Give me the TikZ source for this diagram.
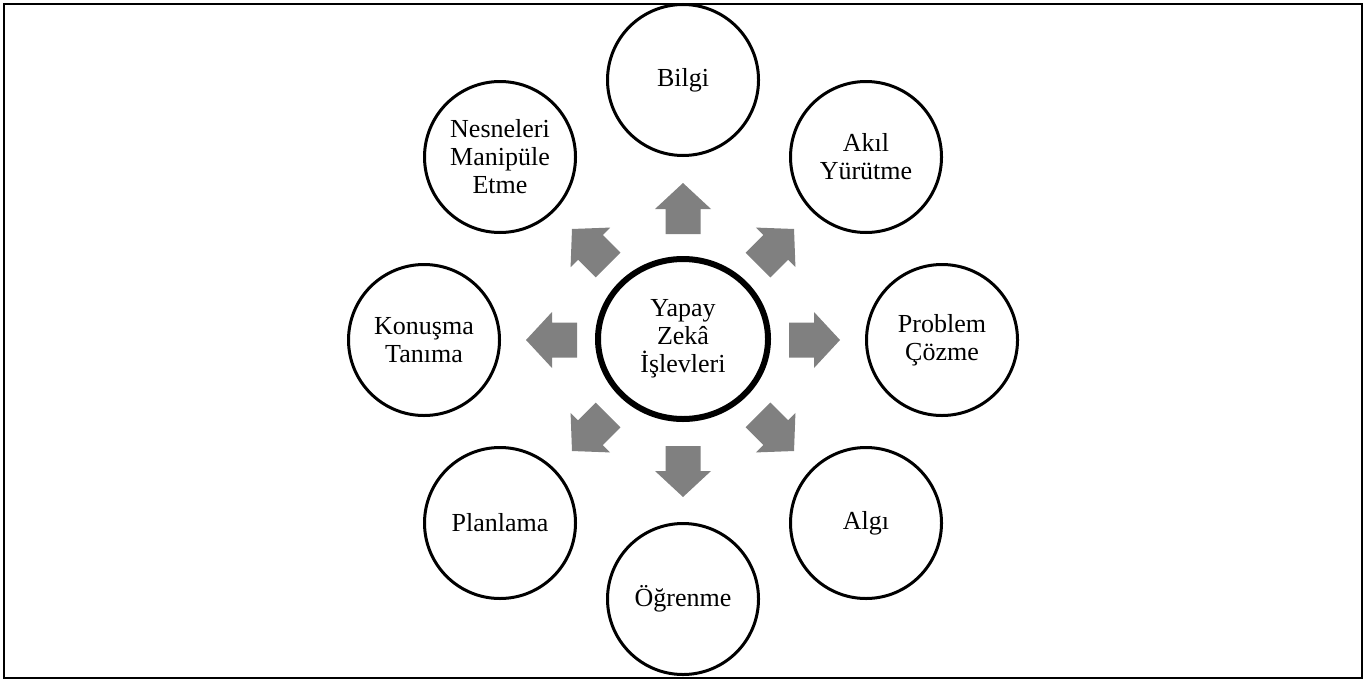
\documentclass[tikz,border=0pt]{standalone}
\usepackage{fontspec}
\setmainfont{Liberation Serif}
\usetikzlibrary{shapes.geometric}

\definecolor{arrowgray}{RGB}{128,128,128}

\tikzset{
  item/.style={circle, draw, line width=1.5pt, minimum size=75.5pt, inner sep=0pt, align=center, font=\fontsize{13}{14}\selectfont},
  hubnode/.style={ellipse, draw, line width=3pt, minimum width=85pt, minimum height=80pt, inner sep=0pt, align=center, font=\fontsize{13}{14}\selectfont},
  blockarrow/.style={fill=arrowgray}
}

\begin{document}
\begin{tikzpicture}[x=0.5pt,y=-0.5pt]

  \useasboundingbox (0,0) rectangle (1368,680);
  \draw [line width=1pt] (4,4) rectangle (1362,678);

  \node [hubnode] (hub) at (683,339) {Yapay\\Zekâ\\İşlevleri};

  \node [item] (bilgi)    at (683,80)  {Bilgi};
  \node [item] (akil)     at (866,157) {Akıl\\Yürütme};
  \node [item] (problem)  at (942,340) {Problem\\Çözme};
  \node [item] (algi)     at (866,523) {Algı};
  \node [item] (ogrenme)  at (683,599) {Öğrenme};
  \node [item] (planlama) at (500,523) {Planlama};
  \node [item] (konusma)  at (424,340) {Konuşma\\Tanıma};
  \node [item] (nesne)    at (500,157) {Nesneleri\\Manipüle\\Etme};

  % block arrows around the hub
  \begin{scope}[shift={(683,340)}]
    \foreach \a in {0,45,...,315}
      \fill [blockarrow, rotate=\a] (106,-17.5) -- (131,-17.5) -- (131,-28) -- (157,0)
        -- (131,28) -- (131,17.5) -- (106,17.5) -- cycle;
  \end{scope}

\end{tikzpicture}
\end{document}
